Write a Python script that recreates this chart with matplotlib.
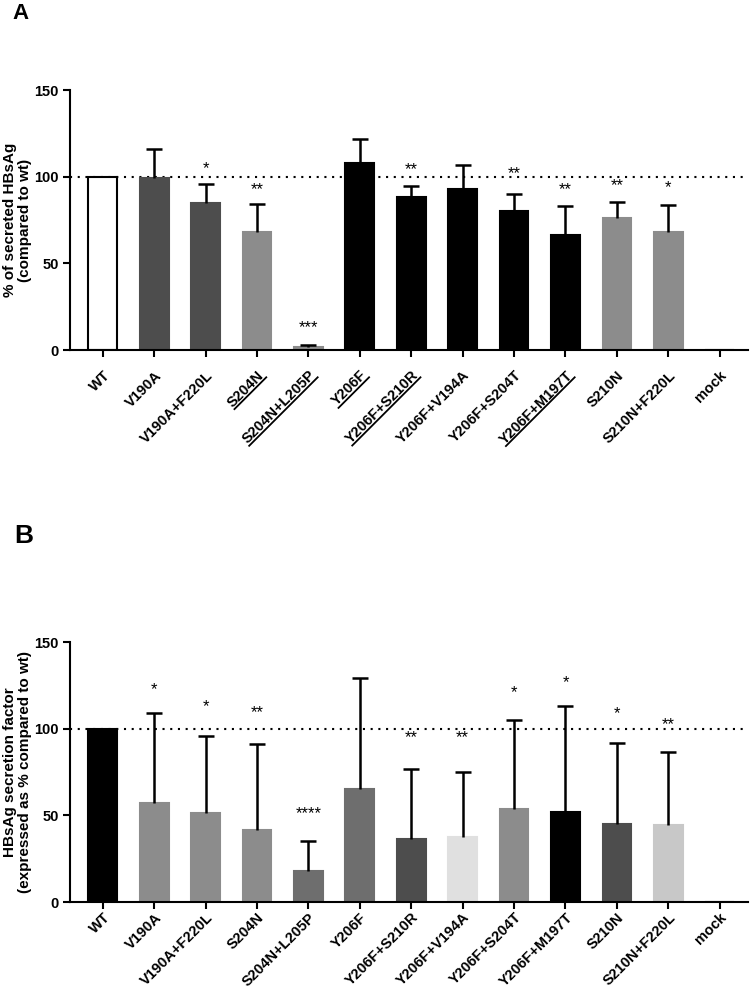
import matplotlib
matplotlib.use('Agg')
import matplotlib.pyplot as plt
import numpy as np
from matplotlib.lines import Line2D
from matplotlib.transforms import IdentityTransform

plt.rcParams['font.family'] = ['Liberation Sans', 'DejaVu Sans']

# categories (same for both panels)
labels = ['WT', 'V190A', 'V190A+F220L', 'S204N', 'S204N+L205P', 'Y206F',
          'Y206F+S210R', 'Y206F+V194A', 'Y206F+S204T', 'Y206F+M197T',
          'S210N', 'S210N+F220L', 'mock']
underlined_a = ['S204N', 'S204N+L205P', 'Y206F', 'Y206F+S210R', 'Y206F+M197T']

# panel A: % secreted HBsAg
mean_a = [100, 99.5, 85, 68, 1.5, 108, 88.5, 93, 80, 66.5, 76, 68, 0]
err_a = [0, 16.5, 11, 16, 1.5, 14, 6, 14, 10, 16.5, 9.5, 15.5, 0]
stars_a = ['', '', '*', '**', '***', '', '**', '', '**', '**', '**', '*', '']
star_y_a = [0, 0, 106, 94, 14, 0, 105.5, 0, 103, 93.5, 96, 94.7, 0]
colors_a = ['white', '#4d4d4d', '#4d4d4d', '#8c8c8c', '#8c8c8c', 'black',
            'black', 'black', 'black', 'black', '#8c8c8c', '#8c8c8c', 'white']

# panel B: secretion factor
mean_b = [100, 57, 51.6, 41.6, 18, 65, 36.4, 37.8, 54, 52, 45, 44.7, 0]
err_b = [0, 52, 44.4, 49.4, 17, 64.5, 40.6, 37.2, 51, 61, 47, 41.8, 0]
stars_b = ['', '*', '*', '**', '****', '', '**', '**', '*', '*', '*', '**', '']
star_y_b = [0, 124, 114, 110.6, 52, 0, 96, 96, 122, 127.7, 110, 103.6, 0]
colors_b = ['black', '#8c8c8c', '#8c8c8c', '#8c8c8c', '#6e6e6e', '#6e6e6e',
            '#4d4d4d', '#e0e0e0', '#8c8c8c', 'black', '#4d4d4d', '#c8c8c8', 'white']

fig = plt.figure(figsize=(7.5, 9.88), dpi=100)
ax_a = fig.add_axes([0.0933, 0.6457, 0.904, 0.2632])
ax_b = fig.add_axes([0.0933, 0.0870, 0.904, 0.2630])


def draw_panel(ax, means, errs, colors, stars, star_y, ylabel, xpad):
    x = np.arange(len(labels))
    edges = ['black' if c == 'white' else c for c in colors]
    ax.bar(x, means, width=0.56, color=colors, edgecolor=edges, linewidth=1.5, zorder=2)
    # upper error bars only, with a cap on top (GraphPad style)
    for xi, m, e in zip(x, means, errs):
        if e > 0:
            ax.vlines(xi, m, m + e, color='black', linewidth=1.8, zorder=3)
            ax.plot(xi, m + e, marker='_', markersize=11, markeredgewidth=1.8,
                    color='black', zorder=3)
    for xi, s, sy in zip(x, stars, star_y):
        if s:
            ax.annotate(s, (xi, sy), xytext=(0, -1.5), textcoords='offset points',
                        ha='center', va='center', fontsize=12, color='black')
    ax.axhline(100, color='black', linestyle=(0, (1, 2.7)), linewidth=1.5, zorder=1)
    ax.set_ylim(0, 150)
    ax.set_xlim(-0.64, 12.55)
    ax.set_yticks([0, 50, 100, 150])
    ax.set_yticklabels(['0', '50', '100', '150'], fontsize=10.5, fontweight='bold')
    ax.set_xticks(x)
    ax.set_xticklabels(labels, rotation=45, ha='right', rotation_mode='anchor',
                       fontsize=10.5, fontweight='bold')
    ax.spines['top'].set_visible(False)
    ax.spines['right'].set_visible(False)
    ax.spines['left'].set_linewidth(1.5)
    ax.spines['bottom'].set_linewidth(1.5)
    ax.tick_params(axis='both', width=1.5, length=5, direction='out')
    ax.tick_params(axis='y', pad=3)
    ax.tick_params(axis='x', pad=xpad)
    ax.set_ylabel(ylabel, fontsize=11, fontweight='bold', linespacing=1.05, labelpad=2)


draw_panel(ax_a, mean_a, err_a, colors_a, stars_a, star_y_a,
           '% of secreted HBsAg\n(compared to wt)', 8)
draw_panel(ax_b, mean_b, err_b, colors_b, stars_b, star_y_b,
           'HBsAg secretion factor\n(expressed as % compared to wt)', 1)

fig.text(0.017, 0.997, 'A', fontsize=16, fontweight='bold', va='top')
fig.text(0.019, 0.470, 'B', fontsize=19, fontweight='bold', va='top')

# underline some tick labels of panel A (matplotlib has no underline for text)
fig.canvas.draw()
renderer = fig.canvas.get_renderer()
ang = np.deg2rad(45)
for tl in ax_a.get_xticklabels():
    if tl.get_text() not in underlined_a:
        continue
    prop = tl.get_fontproperties()
    w, h, d = renderer.get_text_width_height_descent(tl.get_text(), prop, ismath=False)
    _, lp_h, lp_d = renderer.get_text_width_height_descent('lp', prop, ismath=False)
    hh = max(h, lp_h)
    dd = max(d, lp_d)
    ax0, ay0 = tl.get_transform().transform(tl.get_position())
    v = -(hh - dd) - 2.0
    pts = []
    for u in (-w, 0):
        pts.append((ax0 + u * np.cos(ang) - v * np.sin(ang),
                    ay0 + u * np.sin(ang) + v * np.cos(ang)))
    fig.add_artist(Line2D([pts[0][0], pts[1][0]], [pts[0][1], pts[1][1]],
                          transform=IdentityTransform(), color='black', linewidth=1.3))

fig.savefig('out.png', dpi=100)
